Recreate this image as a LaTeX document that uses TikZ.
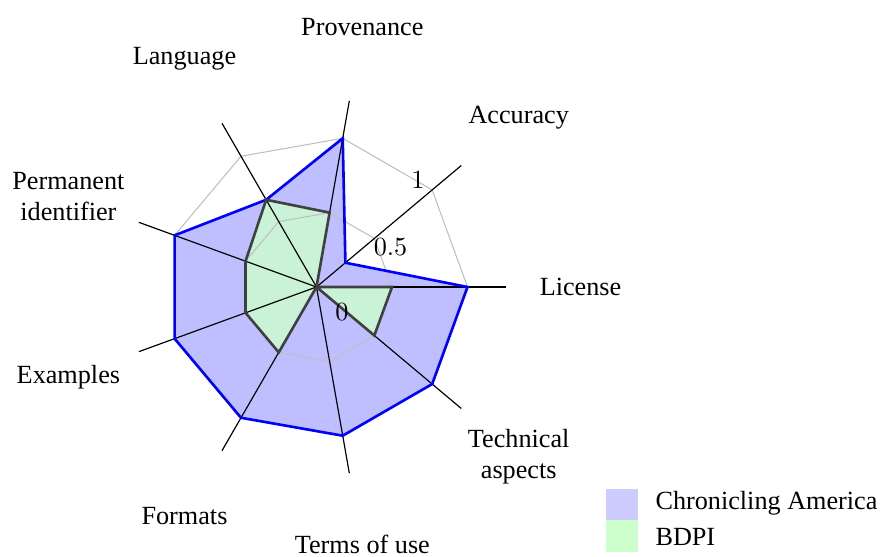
\documentclass[tikz,border=0pt]{standalone}
\usepackage{fontspec}
\setmainfont{Liberation Serif}
\definecolor{cafill}{RGB}{191,191,255}
\definecolor{bdfill}{RGB}{201,242,214}
\definecolor{calegend}{RGB}{204,204,255}
\definecolor{bdlegend}{RGB}{204,255,204}
\definecolor{bdline}{RGB}{64,64,64}
\begin{document}
\begin{tikzpicture}[x=0.3816pt,y=0.3816pt,
  gridline/.style={draw=black!25, line width=0.4pt},
  axisline/.style={draw=black, line width=0.45pt},
  caline/.style={draw=blue, line width=1pt, line join=miter},
  bdoutline/.style={draw=bdline, line width=1pt, line join=miter},
  lbl/.style={align=center, inner sep=0pt},
  tick/.style={inner sep=0pt},
  legbox/.style={minimum size=12.2pt, inner sep=0pt, draw=none},
  legtext/.style={anchor=west, inner sep=0pt}]
\useasboundingbox (-316.5,-270) rectangle (563.5,287);
\coordinate (O) at (0,0);
\foreach \i/\n in {0/lic,1/acc,2/prov,3/lang,4/perm,5/ex,6/form,7/terms,8/tech}{
  \coordinate (\n) at (\i*40:189);
}
% data polygons (fills)
\fill[cafill] (0:151) -- (40:37.75) -- (80:151) -- (120:100.7) -- (160:151) -- (200:151) -- (240:151) -- (280:151) -- (320:151) -- cycle;
\fill[bdfill] (0:75.5) -- (O) -- (80:75.5) -- (120:100.7) -- (160:75.5) -- (200:75.5) -- (240:75.5) -- (O) -- (320:75.5) -- cycle;
% grid
\draw[gridline] (0:151) \foreach \a in {40,80,...,320}{ -- (\a:151)} -- cycle;
\draw[gridline] (0:75.5) \foreach \a in {40,80,...,320}{ -- (\a:75.5)} -- cycle;
% axes
\foreach \n in {lic,acc,prov,lang,perm,ex,form,terms,tech}{
  \draw[axisline] (O) -- (\n);
}
% outlines
\draw[caline] (0:151) -- (40:37.75) -- (80:151) -- (120:100.7) -- (160:151) -- (200:151) -- (240:151) -- (280:151) -- (320:151) -- cycle;
\draw[bdoutline] (0:75.5) -- (O) -- (80:75.5) -- (120:100.7) -- (160:75.5) -- (200:75.5) -- (240:75.5) -- (O) -- (320:75.5) -- cycle;
% tick labels
\node[tick] (t1) at (101.5,107) {$1$};
\node[tick] (t05) at (74,40) {$0.5$};
\node[tick] (t0) at (25.5,-25) {$0$};
% axis labels
\node[lbl] (Llic) at (0:264) {License};
\node[lbl] (Lacc) at (40:264) {Accuracy};
\node[lbl] (Lprov) at (80:264) {Provenance};
\node[lbl] (Llang) at (120:264) {Language};
\node[lbl] (Lperm) at (160:264) {Permanent\\identifier};
\node[lbl] (Lex) at (200:264) {Examples};
\node[lbl] (Lform) at (240:264) {Formats};
\node[lbl] (Lterms) at ([yshift=1pt]280:264) {Terms of use};
\node[lbl] (Ltech) at (320:264) {Technical\\aspects};
% legend
\node[legbox, fill=calegend] (k1) at (305.5,-217.8) {};
\node[legbox, fill=bdlegend] (k2) at (305.5,-249.4) {};
\node[legtext] (k1t) at (338.5,-216) {Chronicling America};
\node[legtext] (k2t) at (338.5,-250) {BDPI};
\end{tikzpicture}
\end{document}
